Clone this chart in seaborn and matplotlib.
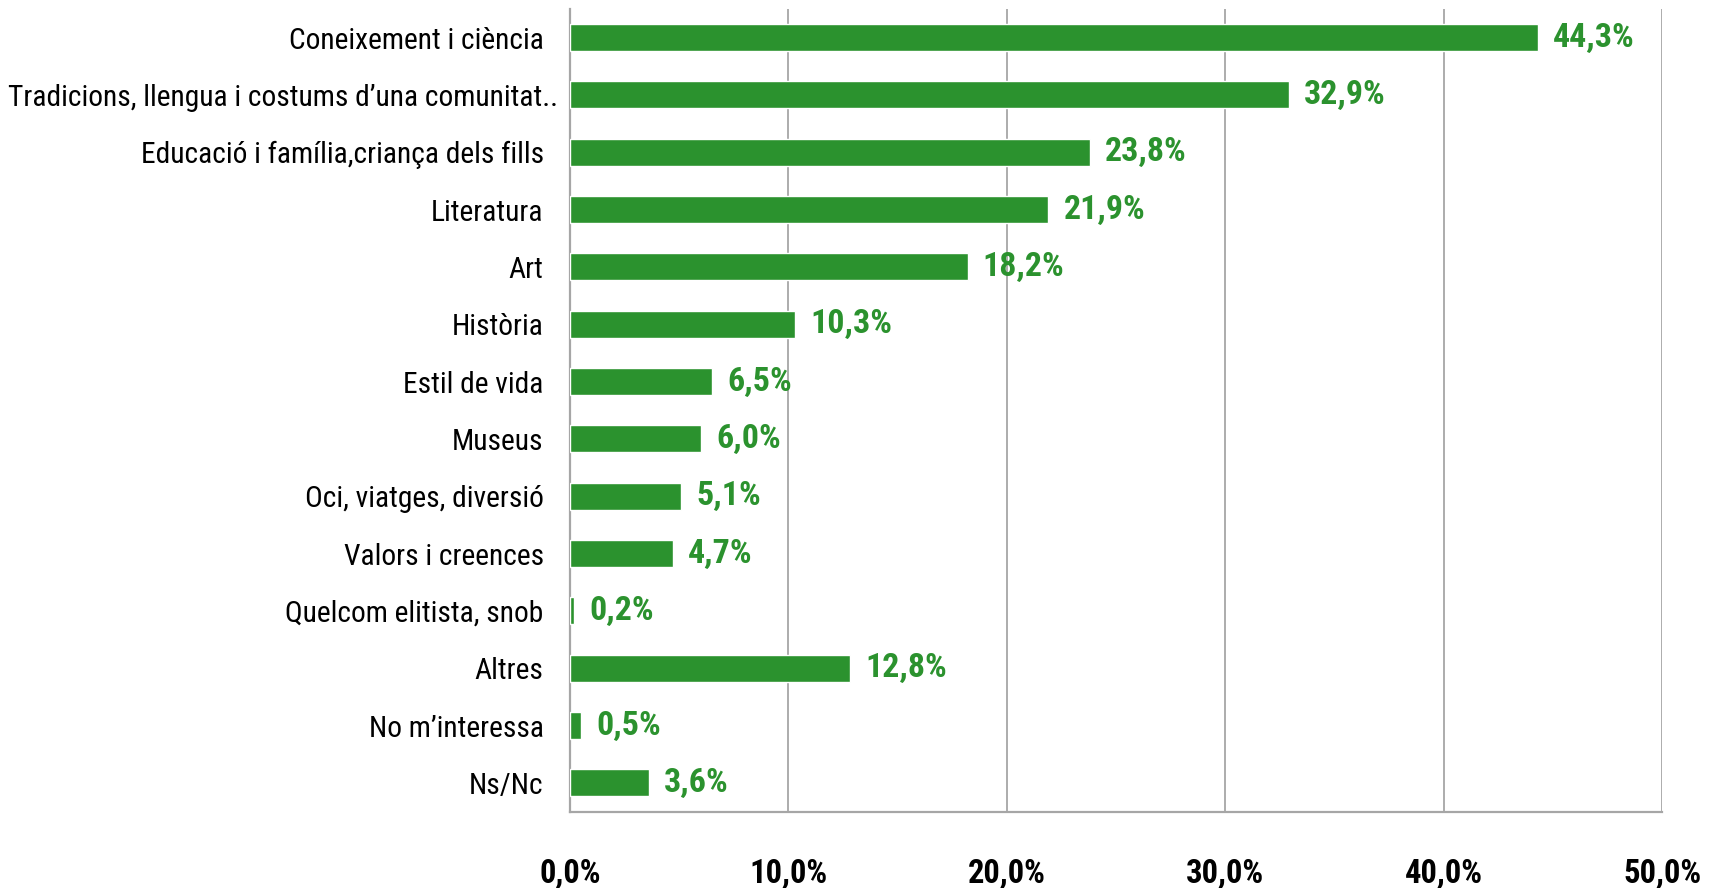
import matplotlib

matplotlib.use("Agg")

import matplotlib.pyplot as plt
import matplotlib.transforms as mtransforms
import numpy as np
import pandas as pd
import seaborn as sns
from matplotlib.ticker import FixedLocator, FuncFormatter

categories = [
    "Coneixement i ciència",
    "Tradicions, llengua i costums d\u2019una comunitat..",
    "Educació i família,criança dels fills",
    "Literatura",
    "Art",
    "Història",
    "Estil de vida",
    "Museus",
    "Oci, viatges, diversió",
    "Valors i creences",
    "Quelcom elitista, snob",
    "Altres",
    "No m\u2019interessa",
    "Ns/Nc",
]
values = [44.3, 32.9, 23.8, 21.9, 18.2, 10.3, 6.5, 6.0, 5.1, 4.7, 0.2, 12.8, 0.5, 3.6]
x_ticks = [0, 10, 20, 30, 40, 50]

GREEN = "#2b922e"
GRID = "#a6a6a6"

df = pd.DataFrame({"category": categories, "value": values})

sns.set_theme(style="white")
plt.rcParams["font.family"] = ["Roboto Condensed", "Liberation Sans Narrow", "Liberation Sans", "DejaVu Sans"]

fig = plt.figure(figsize=(17.17, 8.88), dpi=100)
ax = fig.add_axes([0.332, 0.086, 0.636, 0.904])

sns.barplot(data=df, x="value", y="category", color=GREEN, width=0.47,
            saturation=1, ax=ax, zorder=3)

ax.set_xlim(0, 50)
ax.set_ylim(len(categories) - 0.5, -0.5)
ax.set_xlabel("")
ax.set_ylabel("")

ax.xaxis.set_major_locator(FixedLocator(x_ticks))
ax.xaxis.set_major_formatter(FuncFormatter(lambda v, p: f"{v:.1f}%".replace(".", ",")))
ax.grid(axis="x", color=GRID, linewidth=1.3, zorder=0)
ax.grid(axis="y", visible=False)

for side in ["top", "right"]:
    ax.spines[side].set_visible(False)
for side in ["left", "bottom"]:
    ax.spines[side].set_color(GRID)
    ax.spines[side].set_linewidth(1.6)

ax.tick_params(axis="x", which="major", length=11, width=1.3, color=GRID,
               direction="out", pad=22, labelsize=23.5, labelcolor="black")
for lab in ax.get_xticklabels():
    lab.set_fontweight("bold")

ax.tick_params(axis="y", which="major", length=0, pad=19, labelsize=21.5, labelcolor="black")
ax.yaxis.set_minor_locator(FixedLocator(np.arange(-0.5, len(categories), 1.0)))
ax.tick_params(axis="y", which="minor", length=8, width=1.3, color=GRID, direction="out")

for i, v in enumerate(values):
    ax.text(v + 0.7, i, f"{v:.1f}%".replace(".", ","), va="center", ha="left",
            color=GREEN, fontsize=24.5, fontweight="bold", zorder=4)

# the long "Tradicions..." label sits closer to the axis in the original
long_lab = ax.get_yticklabels()[1]
long_lab.set_transform(long_lab.get_transform()
                       + mtransforms.ScaledTranslation(10 / 72, 0, fig.dpi_scale_trans))

# shrink category labels if the longest one would run off the left edge
fig.canvas.draw()
renderer = fig.canvas.get_renderer()
left_most = min(t.get_window_extent(renderer).x0 for t in ax.get_yticklabels())
size = 21.5
while left_most < 4 and size > 12:
    size -= 0.25
    for t in ax.get_yticklabels():
        t.set_fontsize(size)
    fig.canvas.draw()
    left_most = min(t.get_window_extent(renderer).x0 for t in ax.get_yticklabels())

fig.savefig("out.png", dpi=100)
